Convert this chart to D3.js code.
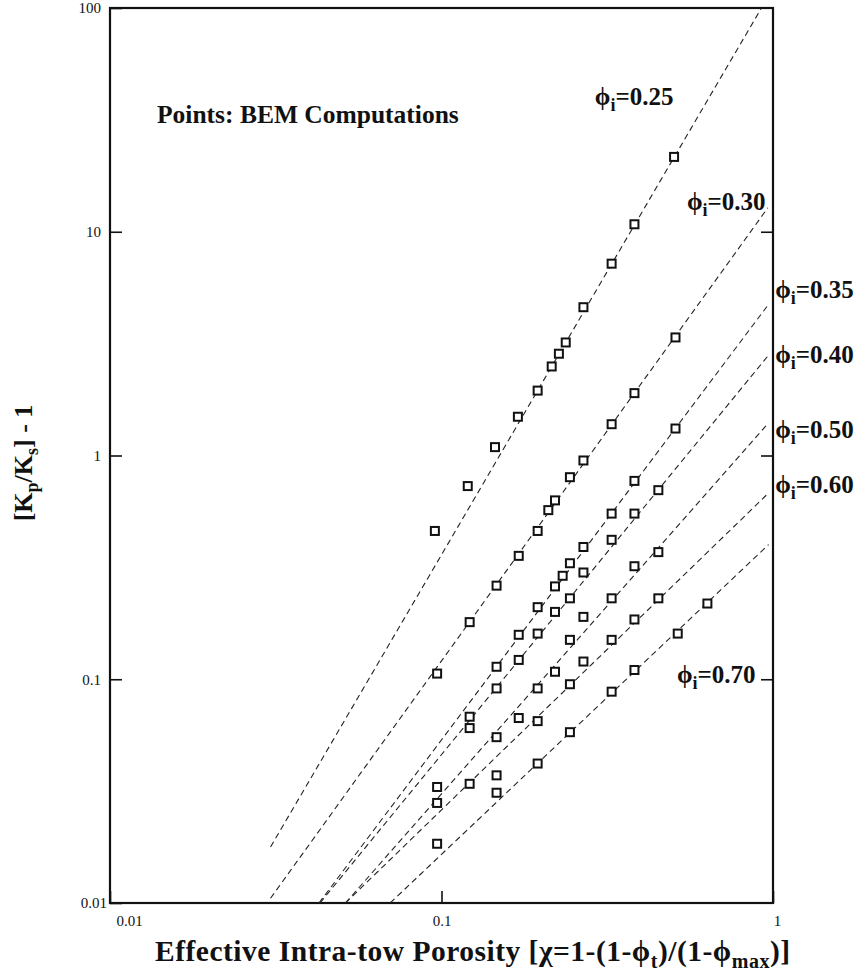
<!DOCTYPE html>
<html>
<head>
<meta charset="utf-8">
<script src="https://cdn.jsdelivr.net/npm/d3@7"></script>
<style>
  body { margin: 0; background: #fff; }
  svg { display: block; font-family: "Liberation Serif", "Times New Roman", serif; }
</style>
</head>
<body>
<svg id="chart" width="856" height="971"></svg>
<script>
// phi_i values of each fitted line / BEM series
const phiLabels = ["0.25", "0.30", "0.35", "0.40", "0.50", "0.60", "0.70"];

// dashed fit lines, [x, y] at both ends
const lineStarts = [[0.0305, 0.0178], [0.0305, 0.0105], [0.0427, 0.01], [0.043, 0.01], [0.0513, 0.01], [0.0513, 0.01], [0.070, 0.01]];
const lineEnds = [[0.923, 100], [0.965, 12.8], [0.97, 4.74], [0.97, 2.81], [0.97, 1.40], [0.97, 0.68], [0.97, 0.40]];

// BEM computations, [chi, Kp/Ks - 1]
const pts25 = [[0.0955, 0.46], [0.120, 0.73], [0.145, 1.09], [0.170, 1.49], [0.195, 1.95], [0.215, 2.5], [0.226, 2.85], [0.237, 3.2], [0.268, 4.6], [0.326, 7.2], [0.382, 10.8], [0.503, 21.6]];
const pts30 = [[0.097, 0.106], [0.1216, 0.18], [0.1466, 0.262], [0.171, 0.356], [0.195, 0.46], [0.21, 0.57], [0.22, 0.63], [0.244, 0.80], [0.268, 0.95], [0.326, 1.38], [0.382, 1.9], [0.508, 3.37]];
const pts35 = [[0.1216, 0.068], [0.1466, 0.1137], [0.171, 0.158], [0.195, 0.21], [0.22, 0.26], [0.232, 0.29], [0.244, 0.33], [0.268, 0.39], [0.326, 0.55], [0.382, 0.77], [0.508, 1.32]];
const pts40 = [[0.097, 0.033], [0.1216, 0.0605], [0.1466, 0.091], [0.171, 0.122], [0.195, 0.16], [0.22, 0.20], [0.244, 0.23], [0.268, 0.30], [0.326, 0.42], [0.382, 0.55], [0.451, 0.70]];
const pts50 = [[0.097, 0.028], [0.1466, 0.0551], [0.171, 0.0671], [0.195, 0.091], [0.22, 0.108], [0.244, 0.15], [0.268, 0.19], [0.326, 0.23], [0.382, 0.32], [0.451, 0.37]];
const pts60 = [[0.1216, 0.0341], [0.1466, 0.0372], [0.195, 0.065], [0.244, 0.095], [0.268, 0.12], [0.326, 0.15], [0.382, 0.185], [0.451, 0.23]];
const pts70 = [[0.097, 0.0184], [0.1466, 0.0311], [0.195, 0.042], [0.244, 0.058], [0.326, 0.088], [0.382, 0.11], [0.516, 0.16], [0.634, 0.218]];
const series = [pts25, pts30, pts35, pts40, pts50, pts60, pts70];

// where the phi_i labels sit (data coords of text baseline start)
const labelX = [0.29, 0.55, 1.015, 1.015, 1.015, 1.015, 0.513];
const labelY = [36.8, 12.5, 5.06, 2.59, 1.2, 0.68, 0.096];

const yTicks = [0.01, 0.1, 1, 10, 100];
const xTicks = [0.01, 0.1, 1];

const svg = d3.select("#chart");
const x = d3.scaleLog().domain([0.01, 1]).range([110, 773]);
const y = d3.scaleLog().domain([0.01, 100]).range([903, 8]);
const fmt = d => String(d);
const serif = "Liberation Serif, Times New Roman, serif";

svg.append("defs").append("clipPath").attr("id", "plot")
  .append("rect")
  .attr("x", x(0.01)).attr("y", y(100))
  .attr("width", x(1) - x(0.01)).attr("height", y(0.01) - y(100));

// axes: inward ticks on left, right and bottom
const gLeft = svg.append("g").attr("transform", `translate(${x(0.01)},0)`)
  .call(d3.axisLeft(y).tickValues(yTicks).tickSize(-12).tickPadding(9).tickFormat(fmt));
const gRight = svg.append("g").attr("transform", `translate(${x(1)},0)`)
  .call(d3.axisRight(y).tickValues([0.1, 1, 10]).tickSize(-12).tickFormat(""));
const gBottom = svg.append("g").attr("transform", `translate(0,${y(0.01)})`)
  .call(d3.axisBottom(x).tickValues(xTicks).tickSize(-12).tickPadding(10).tickFormat(fmt));

[gLeft, gRight, gBottom].forEach(g => {
  g.select(".domain").remove();
  g.selectAll(".tick line").attr("stroke", "#111").attr("stroke-width", 1.6);
  g.selectAll(".tick text").attr("font-family", serif).attr("font-size", 15).attr("fill", "#111");
});
gBottom.selectAll(".tick text").attr("dy", "0.85em");
gBottom.selectAll(".tick").filter(d => d === 0.01).select("text").attr("text-anchor", "start").attr("dx", 6);
gBottom.selectAll(".tick").filter(d => d === 1).select("text").attr("dx", 4);
gLeft.selectAll(".tick").filter(d => d === 0.01).select("text").attr("dx", 6);

// frame
svg.append("rect")
  .attr("x", x(0.01)).attr("y", y(100))
  .attr("width", x(1) - x(0.01)).attr("height", y(0.01) - y(100))
  .attr("fill", "none").attr("stroke", "#111").attr("stroke-width", 2.2);

// dashed fit lines
const line = d3.line().x(d => x(d[0])).y(d => y(d[1]));
svg.append("g").attr("clip-path", "url(#plot)")
  .selectAll("path").data(phiLabels).join("path")
  .attr("d", (d, i) => line([lineStarts[i], lineEnds[i]]))
  .attr("fill", "none").attr("stroke", "#222").attr("stroke-width", 1.1)
  .attr("stroke-dasharray", "6,4");

// BEM points
const sq = 8;
svg.append("g").selectAll("g").data(series).join("g")
  .selectAll("rect").data(d => d).join("rect")
  .attr("x", d => x(d[0]) - sq / 2).attr("y", d => y(d[1]) - sq / 2)
  .attr("width", sq).attr("height", sq)
  .attr("fill", "#fff").attr("stroke", "#111").attr("stroke-width", 2);

// phi_i labels
const lab = svg.append("g").attr("font-family", serif).attr("font-weight", "bold")
  .attr("font-size", 25).attr("fill", "#111")
  .selectAll("text").data(phiLabels).join("text")
  .attr("x", (d, i) => x(labelX[i])).attr("y", (d, i) => y(labelY[i]));
lab.append("tspan").text("\u03D5");
lab.append("tspan").attr("font-size", 18).attr("dy", 6).text("i");
lab.append("tspan").attr("dy", -6).text(d => "=" + d);

// note
svg.append("text").attr("x", 157).attr("y", 123)
  .attr("font-family", serif).attr("font-weight", "bold").attr("font-size", 25.5).attr("fill", "#111")
  .text("Points: BEM Computations");

// axis titles
const xt = svg.append("text").attr("x", 155).attr("y", 961)
  .attr("font-family", serif).attr("font-weight", "bold").attr("font-size", 29.5)
  .attr("letter-spacing", 0.5).attr("fill", "#111");
xt.append("tspan").text("Effective Intra-tow Porosity [\u03C7=1-(1-\u03D5");
xt.append("tspan").attr("font-size", 20).attr("dy", 7).text("t");
xt.append("tspan").attr("dy", -7).text(")/(1-\u03D5");
xt.append("tspan").attr("font-size", 20).attr("dy", 7).text("max");
xt.append("tspan").attr("dy", -7).text(")]");

const yt = svg.append("text").attr("transform", "translate(32,463) rotate(-90)")
  .attr("text-anchor", "middle")
  .attr("font-family", serif).attr("font-weight", "bold").attr("font-size", 26).attr("fill", "#111");
yt.append("tspan").text("[K");
yt.append("tspan").attr("font-size", 18).attr("dy", 6).text("p");
yt.append("tspan").attr("dy", -6).text("/K");
yt.append("tspan").attr("font-size", 18).attr("dy", 6).text("s");
yt.append("tspan").attr("dy", -6).text("] - 1");
</script>
</body>
</html>
